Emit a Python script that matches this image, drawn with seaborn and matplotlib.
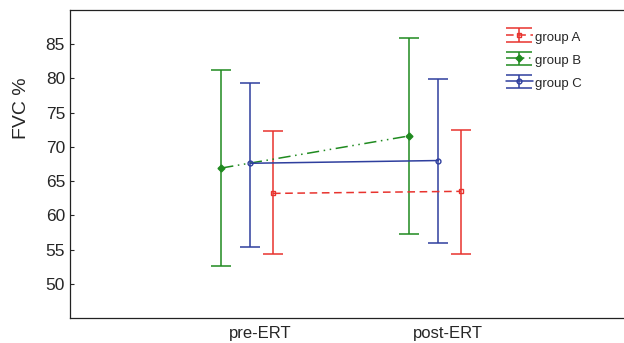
import matplotlib
matplotlib.use('Agg')
import numpy as np
import seaborn as sns
import matplotlib.pyplot as plt
from matplotlib.legend_handler import HandlerErrorbar
from matplotlib.lines import Line2D

phases = ['pre-ERT', 'post-ERT']
groups = ['group A', 'group B', 'group C']

# means and error bar limits
mean_a = [63.2, 63.5]
low_a = [54.3, 54.4]
high_a = [72.3, 72.4]

mean_b = [66.9, 71.6]
low_b = [52.6, 57.3]
high_b = [81.2, 85.9]

mean_c = [67.6, 68.0]
low_c = [55.4, 56.0]
high_c = [79.4, 79.9]


class WideCapHandler(HandlerErrorbar):
    # caps as wide as the legend handle, like the original
    def create_artists(self, legend, orig_handle, xdescent, ydescent,
                       width, height, fontsize, trans):
        arts = super().create_artists(legend, orig_handle, xdescent, ydescent,
                                      width, height, fontsize, trans)
        for a in arts:
            if isinstance(a, Line2D) and a.get_marker() == '_':
                a.set_markersize(width)
        return arts


sns.set_style('ticks')
plt.rcParams['font.family'] = ['Liberation Sans', 'DejaVu Sans']

fig = plt.figure(figsize=(6.24, 3.43), dpi=100)
ax = fig.add_axes([0.112, 0.073, 0.888, 0.898])

x = np.arange(len(phases))
series = [
    ('group A', mean_a, low_a, high_a, 0.07, '#e8332e', 's', (0, (5, 3))),
    ('group B', mean_b, low_b, high_b, -0.205, '#1f8a1f', 'D', (0, (8, 3, 1, 3, 1, 3))),
    ('group C', mean_c, low_c, high_c, -0.05, '#2f3f9e', 'o', '-'),
]
for name, m, lo, hi, off, col, mk, ls in series:
    m = np.array(m)
    err = [m - np.array(lo), np.array(hi) - m]
    ax.errorbar(x + off, m, yerr=err, color=col, marker=mk, markersize=3.5,
                markerfacecolor='none' if mk != 'D' else col, linestyle=ls,
                linewidth=1.1, elinewidth=1.1, capsize=7, capthick=1.1, label=name)

ax.set_xlim(-1.01, 1.937)
ax.set_ylim(45, 90)
ax.set_yticks([50, 55, 60, 65, 70, 75, 80, 85])
ax.set_xticks(x)
ax.set_xticklabels(phases)
ax.tick_params(axis='x', length=0, labelsize=12, pad=6)
ax.tick_params(axis='y', direction='in', length=3, labelsize=12.5)
ax.set_ylabel('FVC %', fontsize=14)
ax.yaxis.set_label_coords(-0.072, 0.68)
ax.spines['right'].set_visible(False)
for s in ['left', 'top', 'bottom']:
    ax.spines[s].set_linewidth(0.9)
    ax.spines[s].set_color('#222222')

ax.legend(loc='upper left', bbox_to_anchor=(0.778, 0.955), frameon=False,
          fontsize=9.5, handlelength=2.0, handleheight=1.4, handletextpad=0.2,
          labelspacing=0.6, borderaxespad=0,
          handler_map={matplotlib.container.ErrorbarContainer: WideCapHandler()})

fig.savefig('out.png', dpi=100)
